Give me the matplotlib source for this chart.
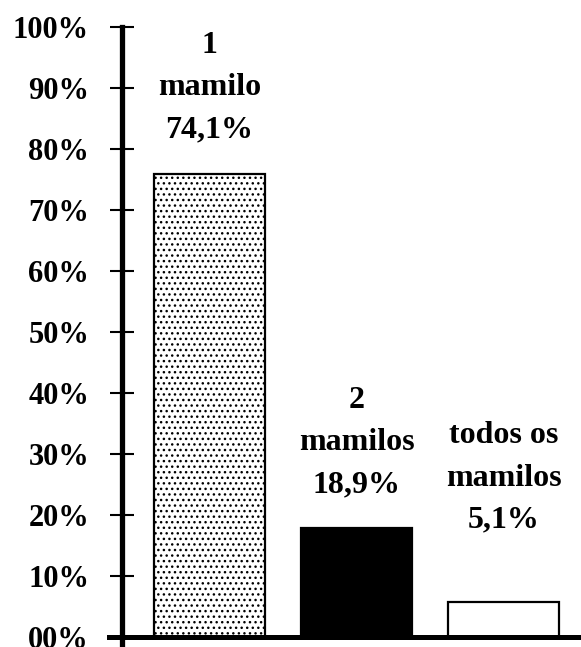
import matplotlib
matplotlib.use("Agg")
import matplotlib.pyplot as plt

categories = ["1\nmamilo", "2\nmamilos", "todos os\nmamilos"]
values = [75.9, 17.8, 5.7]          # bar heights as drawn
label_values = ["74,1%", "18,9%", "5,1%"]
label_y = [90.0, 31.8, 26.0]        # centre height of the annotation
yticks = list(range(0, 101, 10))
ytick_labels = ["00%"] + [f"{v}%" for v in yticks[1:]]

plt.rcParams["font.family"] = ["Liberation Serif", "DejaVu Serif"]
plt.rcParams["font.weight"] = "bold"
plt.rcParams["hatch.linewidth"] = 1.0
plt.rcParams["hatch.color"] = "#4a4a4a"

fig = plt.figure(figsize=(5.81, 6.47), dpi=100)
W, H = 581, 647
ax = fig.add_axes([109 / W, 0, 1 - 109 / W, 1 - 27 / H])

for s in ["top", "right"]:
    ax.spines[s].set_visible(False)
ax.spines["left"].set_position(("data", -0.595))
ax.spines["left"].set_linewidth(3.8)
ax.spines["bottom"].set_position(("data", 0))
ax.spines["bottom"].set_linewidth(3.6)
ax.spines["bottom"].set_zorder(3)

x = list(range(len(values)))
faces = ["white", "black", "white"]
hatches = ["...", None, None]
for xi, v, fc, h in zip(x, values, faces, hatches):
    ax.bar(xi, v, width=0.755, color=fc, edgecolor="black",
           linewidth=1.6, hatch=h, zorder=2)

for xi, cat, lab, ly in zip(x, categories, label_values, label_y):
    ax.text(xi, ly, f"{cat}\n{lab}", ha="center", va="center",
            fontsize=23, fontweight="bold", linespacing=1.6)

ax.set_xlim(-0.684, 2.527)
ax.set_ylim(-1.69, 100)
ax.set_xticks([])
ax.set_yticks(yticks)
ax.set_yticklabels(ytick_labels)
ax.tick_params(axis="y", direction="inout", length=17.5, width=1.5,
               pad=15, color="black", labelsize=22)
for t in ax.get_yticklabels():
    t.set_fontweight("bold")
ax.patch.set_alpha(0)

fig.savefig("out.png", dpi=100)
